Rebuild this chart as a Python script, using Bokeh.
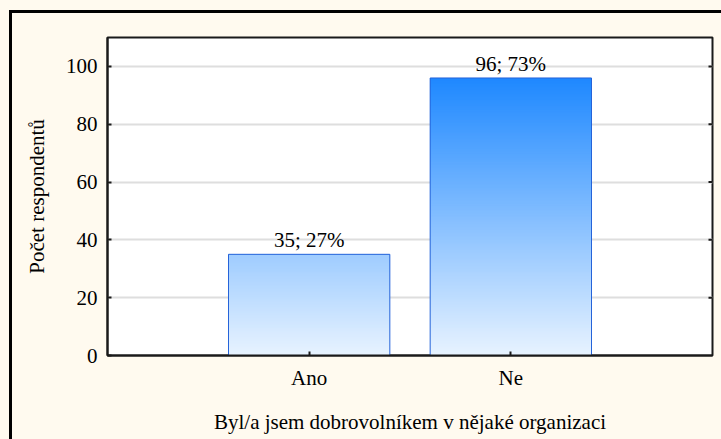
import numpy as np
from bokeh.plotting import figure
from bokeh.models import ColumnDataSource, FixedTicker, Range1d, LabelSet
from bokeh.core.properties import value
from bokeh.embed import file_html
from bokeh.resources import INLINE

# ---- data ----
categories = ["Ano", "Ne"]
counts = [35, 96]
percents = [27, 73]
y_ticks = [0, 20, 40, 60, 80, 100]
x_title = "Byl/a jsem dobrovolníkem v nějaké organizaci"
y_title = "Počet respondentů"

FONT = "Liberation Serif"
CREAM = "#FFFAEF"
FS = "21px"
FRAME_W = 605

xpos = [i + 1 for i in range(len(categories))]
bar_w = 0.8
x_end = len(categories) + 1

p = figure(frame_width=FRAME_W, frame_height=318,
           x_range=Range1d(0, x_end), y_range=Range1d(0, 110),
           output_backend="svg", toolbar_location=None,
           min_border_left=95, min_border_right=9, min_border_top=24, min_border_bottom=84,
           background_fill_color="white", border_fill_color=CREAM,
           styles={"margin-left": "9px", "margin-top": "10px",
                   "border-left": "3px solid black", "border-top": "3px solid black"})

# gradient bars: overlapping slices of each value (each runs from its level to the bar top)
bottom_c = np.array([232, 243, 255])
top_c = np.array([30, 136, 255])
ref = max(counts)
xs_l, xs_r, ys_b, ys_t, cols = [], [], [], [], []
for x, v in zip(xpos, counts):
    levels = np.arange(0, v, 0.5)
    for a in levels:
        t = min((a + 0.25) / ref, 1.0)
        c = bottom_c + (top_c - bottom_c) * t
        xs_l.append(x - bar_w / 2)
        xs_r.append(x + bar_w / 2)
        ys_b.append(a)
        ys_t.append(v)
        cols.append("#%02x%02x%02x" % tuple(int(round(k)) for k in c))
p.quad(left=xs_l, right=xs_r, bottom=ys_b, top=ys_t, fill_color=cols, line_color=None)

# bar outlines
p.quad(left=[x - bar_w / 2 for x in xpos], right=[x + bar_w / 2 for x in xpos],
       bottom=[0] * len(xpos), top=counts, fill_color=None, line_color="#2563D9", line_width=1)

# value labels
src = ColumnDataSource(dict(x=xpos, y=counts,
                            t=["%d; %d%%" % (c, q) for c, q in zip(counts, percents)]))
p.add_layout(LabelSet(x="x", y="y", text="t", source=src, y_offset=2,
                      text_align="center", text_baseline="bottom",
                      text_font=value(FONT), text_font_size=value(FS), text_color="black"))

# right-side inward ticks (4 px long)
tick_len = 4 * x_end / FRAME_W
rt = [t for t in y_ticks if t > 0]
p.segment(x0=[x_end] * len(rt), x1=[x_end - tick_len] * len(rt), y0=rt, y1=rt,
          line_color="#1a1a1a", line_width=2)

# axes
p.xaxis.ticker = FixedTicker(ticks=xpos)
p.xaxis.major_label_overrides = {x: c for x, c in zip(xpos, categories)}
p.xaxis.axis_label = x_title
p.yaxis.ticker = FixedTicker(ticks=y_ticks)
p.yaxis.axis_label = y_title
for ax in [p.xaxis[0], p.yaxis[0]]:
    ax.major_tick_in = 4
    ax.major_tick_out = 0
    ax.minor_tick_line_color = None
    ax.major_tick_line_color = "#1a1a1a"
    ax.major_tick_line_width = 2
    ax.axis_line_color = "#1a1a1a"
    ax.axis_line_width = 2
    ax.major_label_text_font = FONT
    ax.major_label_text_font_size = FS
    ax.major_label_text_color = "black"
    ax.axis_label_text_font = FONT
    ax.axis_label_text_font_size = FS
    ax.axis_label_text_font_style = "normal"
    ax.axis_label_text_color = "black"
p.yaxis.major_label_standoff = 10
p.yaxis.axis_label_standoff = 14
p.xaxis.major_label_standoff = 10
p.xaxis.axis_label_standoff = 17

p.xgrid.visible = False
p.ygrid.ticker = FixedTicker(ticks=y_ticks[1:])
p.ygrid.grid_line_color = "#DEDEDE"
p.ygrid.grid_line_width = 2

p.outline_line_color = "#1a1a1a"
p.outline_line_width = 2

html = file_html(p, INLINE)
html = html.replace("<head>", "<head><style>html,body{background:%s;}</style>" % CREAM, 1)
open("out.html", "w").write(html)
